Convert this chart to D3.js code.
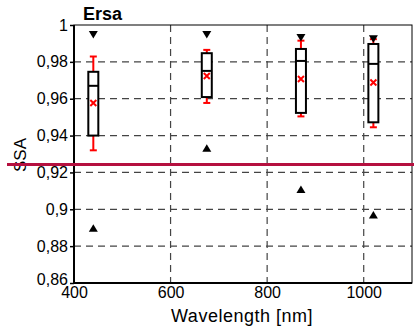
<!DOCTYPE html>
<html><head><meta charset="utf-8">
<script src="https://cdn.jsdelivr.net/npm/d3@7"></script>
<style>body{margin:0;background:#fff}svg{display:block}text{font-family:"Liberation Sans",Arial,sans-serif}</style>
</head><body><svg id="c" width="414" height="332"></svg>
<script>
const wavelengths = [440, 675, 870, 1020];
const boxQ1 = [0.940, 0.9609, 0.9523, 0.9472];
const boxMedian = [0.967, 0.9751, 0.9805, 0.9789];
const boxQ3 = [0.9746, 0.9847, 0.987, 0.9897];
const whiskerLow = [0.932, 0.9577, 0.9504, 0.9445];
const whiskerHigh = [0.9829, 0.9865, 0.9915, 0.9923];
const meanVals = [0.9577, 0.9723, 0.9707, 0.9688];
const maxVals = [0.9948, 0.9948, 0.9932, 0.9926];
const minVals = [0.8897, 0.9331, 0.9108, 0.8969];
const refLine = 0.9243;
const xTicks = [400, 600, 800, 1000];
const xTickLabels = ["400", "600", "800", "1000"];
const yTicks = [0.86, 0.88, 0.9, 0.92, 0.94, 0.96, 0.98, 1];
const yTickLabels = ["0,86", "0,88", "0,9", "0,92", "0,94", "0,96", "0,98", "1"];

const svg = d3.select("#c");
const L = 74, R = 412, T = 25, B = 283;
const x = d3.scaleLinear().domain([400, 1100]).range([L, R]);
const y = d3.scaleLinear().domain([0.86, 1]).range([B, T]);

// grid
const g = svg.append("g");
g.selectAll(".vg").data(xTicks.slice(1)).enter().append("line")
  .attr("x1", d => x(d)).attr("x2", d => x(d)).attr("y1", T).attr("y2", B)
  .attr("stroke", "#444").attr("stroke-width", 1.2).attr("stroke-dasharray", "7,5");
g.selectAll(".hg").data(yTicks.slice(1, -1)).enter().append("line")
  .attr("y1", d => y(d)).attr("y2", d => y(d)).attr("x1", L).attr("x2", R)
  .attr("stroke", "#444").attr("stroke-width", 1.2).attr("stroke-dasharray", "7,5");

// frame
svg.append("rect").attr("x", L).attr("y", T).attr("width", R - L).attr("height", B - T)
  .attr("fill", "none").attr("stroke", "#000").attr("stroke-width", 1);
svg.append("line").attr("x1", L).attr("x2", L).attr("y1", T).attr("y2", B + 1).attr("stroke", "#000").attr("stroke-width", 2);
svg.append("line").attr("x1", L - 1).attr("x2", R).attr("y1", B).attr("y2", B).attr("stroke", "#000").attr("stroke-width", 2);

// axes
const xAxis = svg.append("g").attr("transform", `translate(0,${B})`)
  .call(d3.axisBottom(x).tickValues(xTicks).tickSize(0).tickPadding(4).tickFormat((d, i) => xTickLabels[i]));
xAxis.select(".domain").remove();
xAxis.selectAll("text").attr("font-size", 16).attr("fill", "#000").attr("font-family", "Liberation Sans, Arial, sans-serif");
const yAxis = svg.append("g").attr("transform", `translate(${L},0)`)
  .call(d3.axisLeft(y).tickValues(yTicks).tickSize(4).tickFormat((d, i) => yTickLabels[i]).tickPadding(2));
yAxis.select(".domain").remove();
yAxis.selectAll("line").attr("stroke", "#000").attr("stroke-width", 1.5);
yAxis.selectAll("text").attr("font-size", 16).attr("fill", "#000").attr("font-family", "Liberation Sans, Arial, sans-serif");
yAxis.selectAll(".tick").filter(d => d === 0.86).select("text").attr("dy", "0.1em");

// labels
svg.append("text").attr("x", 242).attr("y", 322).attr("text-anchor", "middle")
  .attr("font-size", 18).attr("letter-spacing", 0.5).text("Wavelength [nm]");
svg.append("text").attr("transform", "translate(26,155) rotate(-90)").attr("text-anchor", "middle")
  .attr("font-size", 17).text("SSA");
svg.append("text").attr("x", 83).attr("y", 20).attr("font-size", 18).attr("font-weight", "bold").text("Ersa");

// boxes
const data = wavelengths.map((w, i) => ({ w, q1: boxQ1[i], med: boxMedian[i], q3: boxQ3[i], lo: whiskerLow[i], hi: whiskerHigh[i], mean: meanVals[i], mx: maxVals[i], mn: minVals[i] }));
const bw = 10, cw = 5;
const red = "#ff0000";
const bg = svg.selectAll(".box").data(data).enter().append("g");
bg.append("line").attr("x1", d => x(d.w)).attr("x2", d => x(d.w)).attr("y1", d => y(d.hi)).attr("y2", d => y(d.lo)).attr("stroke", red).attr("stroke-width", 2);
bg.append("line").attr("x1", d => x(d.w) - cw / 2 - 1).attr("x2", d => x(d.w) + cw / 2 + 1).attr("y1", d => y(d.hi)).attr("y2", d => y(d.hi)).attr("stroke", red).attr("stroke-width", 2);
bg.append("line").attr("x1", d => x(d.w) - cw / 2 - 1).attr("x2", d => x(d.w) + cw / 2 + 1).attr("y1", d => y(d.lo)).attr("y2", d => y(d.lo)).attr("stroke", red).attr("stroke-width", 2);
bg.append("rect").attr("x", d => x(d.w) - bw / 2).attr("width", bw).attr("y", d => y(d.q3)).attr("height", d => y(d.q1) - y(d.q3))
  .attr("fill", "#fff").attr("stroke", "#000").attr("stroke-width", 2);
bg.append("line").attr("x1", d => x(d.w) - bw / 2).attr("x2", d => x(d.w) + bw / 2).attr("y1", d => y(d.med)).attr("y2", d => y(d.med)).attr("stroke", "#000").attr("stroke-width", 2);
// mean x
bg.append("path").attr("d", d => { const cx = x(d.w), cy = y(d.mean), s = 3; return `M${cx - s},${cy - s}L${cx + s},${cy + s}M${cx - s},${cy + s}L${cx + s},${cy - s}`; })
  .attr("stroke", red).attr("stroke-width", 2).attr("fill", "none");
// max triangle (down)
bg.append("path").attr("d", d => { const cx = x(d.w), cy = y(d.mx); return `M${cx - 4.5},${cy - 3.5}L${cx + 4.5},${cy - 3.5}L${cx},${cy + 4}Z`; }).attr("fill", "#000");
// min triangle (up)
bg.append("path").attr("d", d => { const cx = x(d.w), cy = y(d.mn); return `M${cx - 4.5},${cy + 3.5}L${cx + 4.5},${cy + 3.5}L${cx},${cy - 4}Z`; }).attr("fill", "#000");

// reference line
svg.append("line").attr("x1", 7).attr("x2", 414).attr("y1", y(refLine)).attr("y2", y(refLine))
  .attr("stroke", "#b5103f").attr("stroke-width", 3);
</script></body></html>
